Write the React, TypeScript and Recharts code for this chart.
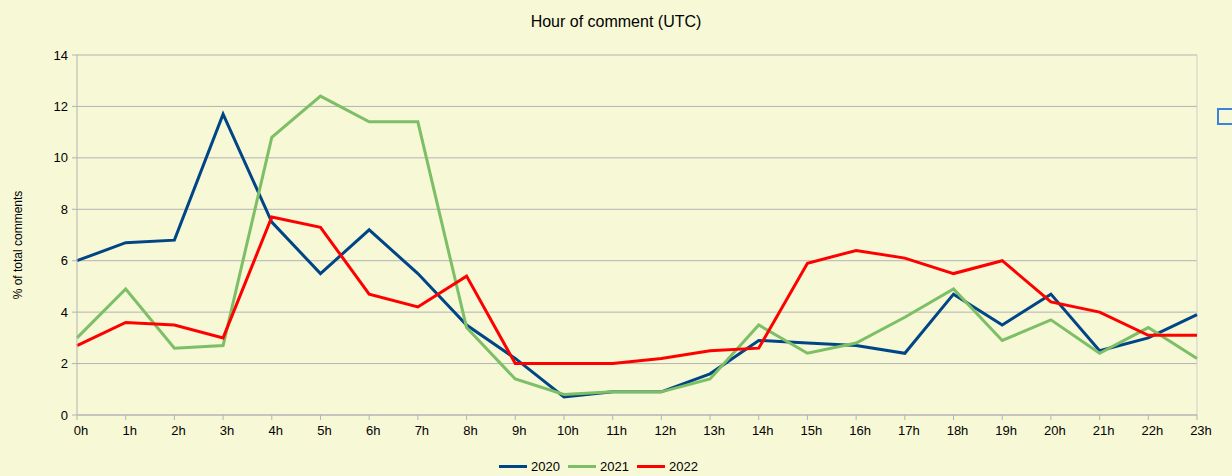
import React from 'react';
import {
  LineChart,
  Line,
  XAxis,
  YAxis,
  CartesianGrid,
  Legend,
  ReferenceLine
} from 'recharts';

const hours = [
  '0h', '1h', '2h', '3h', '4h', '5h', '6h', '7h', '8h', '9h', '10h', '11h',
  '12h', '13h', '14h', '15h', '16h', '17h', '18h', '19h', '20h', '21h', '22h', '23h'
];

const y2020 = [6.0, 6.7, 6.8, 11.7, 7.5, 5.5, 7.2, 5.5, 3.5, 2.2, 0.7, 0.9, 0.9, 1.6, 2.9, 2.8, 2.7, 2.4, 4.7, 3.5, 4.7, 2.5, 3.0, 3.9];
const y2021 = [3.0, 4.9, 2.6, 2.7, 10.8, 12.4, 11.4, 11.4, 3.4, 1.4, 0.8, 0.9, 0.9, 1.4, 3.5, 2.4, 2.8, 3.8, 4.9, 2.9, 3.7, 2.4, 3.4, 2.2];
const y2022 = [2.7, 3.6, 3.5, 3.0, 7.7, 7.3, 4.7, 4.2, 5.4, 2.0, 2.0, 2.0, 2.2, 2.5, 2.6, 5.9, 6.4, 6.1, 5.5, 6.0, 4.4, 4.0, 3.1, 3.1];

const yTicks = [0, 2, 4, 6, 8, 10, 12, 14];

const series = [
  { key: 'y2020', name: '2020', color: '#004586' },
  { key: 'y2021', name: '2021', color: '#7dbf66' },
  { key: 'y2022', name: '2022', color: '#ff0000' }
];

const data = hours.map((hour, i) => ({
  hour,
  y2020: y2020[i],
  y2021: y2021[i],
  y2022: y2022[i]
}));

const FONT = '"Liberation Sans", Arial, sans-serif';
const BG = '#f7f8d6';
const GRID = '#b3b3b3';

const LegendContent = () => (
  <div
    style={{
      display: 'flex',
      justifyContent: 'center',
      alignItems: 'center',
      height: 20,
      fontFamily: FONT,
      fontSize: 13,
      color: '#000'
    }}
  >
    {series.map((s) => (
      <div key={s.key} style={{ display: 'flex', alignItems: 'center', margin: '0 4px' }}>
        <span style={{ display: 'inline-block', width: 28, height: 3, background: s.color, marginRight: 4 }} />
        <span>{s.name}</span>
      </div>
    ))}
  </div>
);

export default function App() {
  return (
    <div
      style={{
        position: 'absolute',
        top: 0,
        left: 0,
        width: 1232,
        height: 476,
        background: BG,
        overflow: 'hidden',
        fontFamily: FONT
      }}
    >
      <div
        style={{
          position: 'absolute',
          top: 13,
          left: 0,
          width: 1232,
          textAlign: 'center',
          fontSize: 16,
          color: '#000'
        }}
      >
        Hour of comment (UTC)
      </div>
      <div
        style={{
          position: 'absolute',
          left: 18,
          top: 245,
          transform: 'translate(-50%, -50%) rotate(-90deg)',
          whiteSpace: 'nowrap',
          fontSize: 12,
          color: '#000'
        }}
      >
        % of total comments
      </div>
      <div
        style={{
          position: 'absolute',
          left: 1217,
          top: 108,
          width: 20,
          height: 13,
          border: '2px solid #3a84df'
        }}
      />
      <LineChart
        width={1232}
        height={476}
        data={data}
        margin={{ top: 55, right: 35, bottom: 11, left: 0 }}
      >
        <CartesianGrid horizontal vertical={false} stroke={GRID} />
        <ReferenceLine x="23h" stroke="#cfcfcf" />
        <XAxis
          dataKey="hour"
          height={30}
          stroke={GRID}
          tickSize={5}
          tickMargin={6}
          tick={{ fill: '#000', fontSize: 13, fontFamily: FONT, dx: 4 }}
          interval={0}
        />
        <YAxis
          width={77}
          domain={[0, 14]}
          ticks={yTicks}
          stroke={GRID}
          tickSize={5}
          tickMargin={4}
          tick={{ fill: '#000', fontSize: 13, fontFamily: FONT }}
        />
        <Legend verticalAlign="bottom" content={<LegendContent />} wrapperStyle={{ bottom: 0 }} />
        {series.map((s) => (
          <Line
            key={s.key}
            type="linear"
            dataKey={s.key}
            name={s.name}
            stroke={s.color}
            strokeWidth={3}
            dot={false}
            activeDot={false}
            isAnimationActive={false}
          />
        ))}
      </LineChart>
    </div>
  );
}
